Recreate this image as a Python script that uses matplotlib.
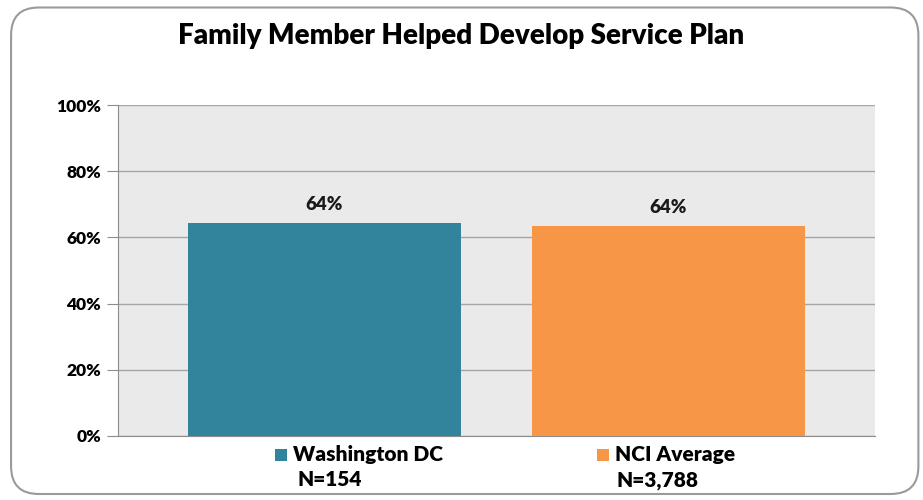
import matplotlib.pyplot as plt
from matplotlib.patches import FancyBboxPatch

# Data
series = ["Washington DC", "NCI Average"]
sample_sizes = ["N=154", "N=3,788"]
values = [64.4, 63.5]
colors = ["#32849C", "#F79646"]
y_ticks = [0, 20, 40, 60, 80, 100]

plt.rcParams["font.family"] = ["Lato", "DejaVu Sans"]
W = "heavy"

fig = plt.figure(figsize=(9.23, 5.0), dpi=100)
fig.patch.set_facecolor("white")

# rounded outer frame, kept behind the axes
frame = FancyBboxPatch((0.012, 0.012), 0.983, 0.973,
                       boxstyle="round,pad=0,rounding_size=0.03",
                       transform=fig.transFigure, facecolor="white",
                       edgecolor="#9A9A9A", linewidth=1.5,
                       mutation_aspect=923 / 500, zorder=-5)
fig.patches.append(frame)

ax = fig.add_axes([118 / 923, 1 - 436 / 500, 757 / 923, 331 / 500])
ax.set_facecolor("#EAEAEA")

x = list(range(len(series)))
bars = ax.bar(x, values, width=0.794, color=colors, zorder=3, label=series)

ax.set_xlim(-0.6, 1.6)
ax.set_ylim(0, 100)
ax.set_yticks(y_ticks)
ax.set_yticklabels([f"{t}%" for t in y_ticks], fontsize=12.5, fontweight=W)
ax.set_xticks([])
ax.grid(axis="y", color="#A6A6A6", linewidth=1.0, zorder=1)
ax.tick_params(axis="y", length=8, color="#8C8C8C", pad=4)
for side in ["top", "right"]:
    ax.spines[side].set_visible(False)
ax.spines["left"].set_color("#8C8C8C")
ax.spines["bottom"].set_color("#8C8C8C")

for xi, v in zip(x, values):
    ax.text(xi, v + 3, f"{v:.0f}%", ha="center", va="bottom",
            fontsize=13.5, fontweight=W, color="#1A1A1A")

fig.text(0.5, 1 - 36 / 500, "Family Member Helped Develop Service Plan",
         ha="center", va="center", fontsize=20, fontweight=W)

# legend entries with sample sizes beneath
for b, name, lx in zip(bars, series, [275, 597]):
    fig.patches.append(plt.Rectangle((lx / 923, 1 - 461 / 500), 12 / 923, 12 / 500,
                                     transform=fig.transFigure,
                                     facecolor=b.get_facecolor(), edgecolor="none"))
    fig.text((lx + 18) / 923, 1 - 455 / 500, name, ha="left", va="center",
             fontsize=15, fontweight=W)
for n, cx in zip(sample_sizes, [330, 658]):
    fig.text(cx / 923, 1 - 480 / 500, n, ha="center", va="center",
             fontsize=15, fontweight=W)

fig.savefig("out.png", dpi=100)
